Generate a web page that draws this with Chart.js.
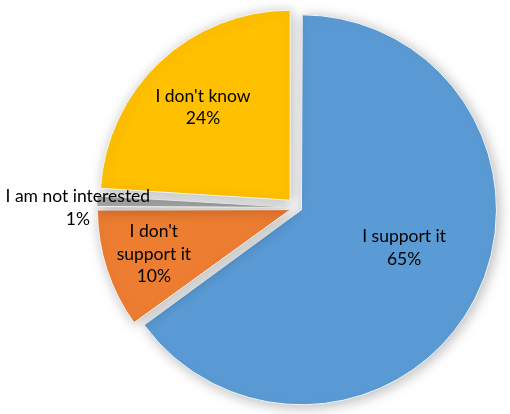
<!DOCTYPE html>
<html>
<head>
<meta charset="utf-8">
<script src="https://cdn.jsdelivr.net/npm/chart.js@4"></script>
<style>
  html, body { margin: 0; padding: 0; background: #fff; }
  .wrap { width: 510px; height: 414px; }
</style>
</head>
<body>
<div class="wrap"><canvas id="pie"></canvas></div>
<script>
const categories = ["I support it", ["I don't", "support it"], "I am not interested", "I don't know"];
const values = [65, 10, 1, 24];
const colors = ["#5b9bd5", "#ed7d31", "#a5a5a5", "#ffc000"];

// where each label sits: fraction of the radius out from the slice tip, and a small turn in degrees
const labelDist = [0.55, 0.74, 1.1, 0.67];
const labelTurn = [-7, 0, -2, 0];

const total = values.reduce((a, b) => a + b, 0);

// soft glow under the slices
const shadowPlugin = {
  id: "shadow",
  beforeDatasetsDraw(chart) {
    const ctx = chart.ctx;
    ctx.save();
    ctx.shadowColor = "rgba(0,0,0,0.28)";
    ctx.shadowBlur = 14;
    ctx.shadowOffsetX = 2;
    ctx.shadowOffsetY = 2;
  },
  afterDatasetsDraw(chart) {
    chart.ctx.restore();
  }
};

const labelPlugin = {
  id: "sliceLabels",
  afterDraw(chart) {
    const ctx = chart.ctx;
    const meta = chart.getDatasetMeta(0);
    ctx.save();
    ctx.font = "17.5px Lato, 'Open Sans', sans-serif";
    ctx.fillStyle = "#000";
    ctx.textAlign = "center";
    ctx.textBaseline = "middle";
    meta.data.forEach((arc, i) => {
      const p = arc.getProps(["x", "y", "startAngle", "endAngle", "outerRadius", "circumference"], true);
      const half = (p.startAngle + p.endAngle) / 2;
      // same shift the arc gets from its offset option
      const off = (arc.options.offset || 0) / 4;
      const fix = 1 - Math.sin(Math.min(Math.PI, p.circumference));
      const t = off + off * fix;
      const ang = half + labelTurn[i] * Math.PI / 180;
      const cx = p.x + Math.cos(half) * t + Math.cos(ang) * labelDist[i] * p.outerRadius;
      const cy = p.y + Math.sin(half) * t + Math.sin(ang) * labelDist[i] * p.outerRadius;
      const name = Array.isArray(categories[i]) ? categories[i] : [categories[i]];
      const lines = name.concat([Math.round(values[i] / total * 100) + "%"]);
      const lh = 22.5;
      lines.forEach((ln, k) => {
        ctx.fillText(ln, cx, cy + (k - (lines.length - 1) / 2) * lh);
      });
    });
    ctx.restore();
  }
};

new Chart(document.getElementById("pie"), {
  type: "pie",
  data: {
    labels: categories,
    datasets: [{
      data: values,
      backgroundColor: colors,
      borderColor: "#f4f4f4",
      borderWidth: 1,
      offset: [20, 28, 21, 40]
    }]
  },
  options: {
    responsive: true,
    maintainAspectRatio: false,
    animation: false,
    radius: 190,
    layout: { padding: { left: 84, right: 0, top: 1, bottom: 0 } },
    plugins: {
      legend: { display: false },
      tooltip: { enabled: false }
    }
  },
  plugins: [shadowPlugin, labelPlugin]
});
</script>
</body>
</html>
